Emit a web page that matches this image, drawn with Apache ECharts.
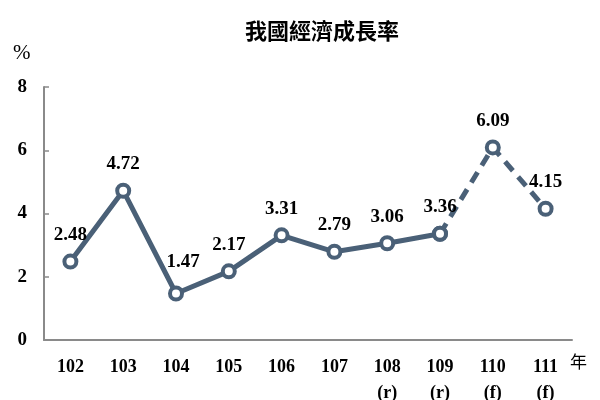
<!DOCTYPE html>
<html><head><meta charset="utf-8">
<script src="https://cdn.jsdelivr.net/npm/echarts@6/dist/echarts.min.js"></script>
<style>html,body{margin:0;padding:0;background:#fff}#c{width:600px;height:400px}</style>
</head><body><div id="c"></div>
<script>
const years = ['102','103','104','105','106','107','108','109','110','111'];
const notes = ['','','','','','','(r)','(r)','(f)','(f)'];
const actual = [2.48, 4.72, 1.47, 2.17, 3.31, 2.79, 3.06, 3.36, '-', '-'];
const forecast = ['-', '-', '-', '-', '-', '-', '-', 3.36, 6.09, 4.15];
const yTicks = [0, 2, 4, 6, 8];

const C = '#4a6077';
const serif = '"Liberation Serif","Times New Roman",serif';
const cats = years.map((y, i) => notes[i] ? y + '\n' + notes[i] : y);

// the 1.47 label sits a little to the right of its point in the reference
const actualItems = actual.map((v, i) => i === 2 ? {value: v, label: {offset: [7, -5]}} : v);

const chart = echarts.init(document.getElementById('c'));
chart.setOption({
  animation: false,
  title: {
    text: '我國經濟成長率', left: 317, top: 15, textAlign: 'center',
    textStyle: {fontFamily: '"Noto Sans CJK TC"', fontSize: 22, fontWeight: 'bold', color: '#000'}
  },
  graphic: [
    {type: 'text', left: 13, top: 43, style: {text: '%', font: '21px ' + serif, fill: '#000'}},
    {type: 'text', left: 570, top: 353, style: {text: '年', font: '17px "Noto Sans CJK TC"', fill: '#000'}}
  ],
  grid: {left: 44, right: 28, top: 87, bottom: 60, outerBoundsMode: 'none', containLabel: false},
  xAxis: {
    type: 'category', data: cats, boundaryGap: true,
    axisLine: {lineStyle: {color: '#8a8a8a', width: 2}},
    axisTick: {inside: true, length: 5, lineStyle: {color: '#8a8a8a', width: 1.5}},
    axisLabel: {margin: 14, color: '#000', fontFamily: serif, fontSize: 18, fontWeight: 'bold', lineHeight: 26, verticalAlign: 'top', interval: 0}
  },
  yAxis: {
    type: 'value', min: 0, max: 8, interval: 2,
    splitLine: {show: false},
    axisLine: {show: true, lineStyle: {color: '#8a8a8a', width: 2}},
    axisTick: {show: true, inside: true, length: 5, lineStyle: {color: '#8a8a8a', width: 1.5}},
    axisLabel: {margin: 17, color: '#000', fontFamily: serif, fontSize: 19, fontWeight: 'bold',
      formatter: v => yTicks.includes(v) ? String(v) : ''}
  },
  series: [
    {
      type: 'line', data: forecast, z: 2,
      lineStyle: {color: C, width: 5, type: [12, 8]},
      symbol: 'circle', symbolSize: 12,
      itemStyle: {color: '#fff', borderColor: C, borderWidth: 4},
      label: {show: true, position: 'top', distance: 9, color: '#000', fontFamily: serif, fontSize: 19, fontWeight: 'bold',
        formatter: p => p.dataIndex >= 8 ? p.value.toFixed(2) : ''}
    },
    {
      type: 'line', data: actualItems, z: 3,
      lineStyle: {color: C, width: 5},
      symbol: 'circle', symbolSize: 12,
      itemStyle: {color: '#fff', borderColor: C, borderWidth: 4},
      label: {show: true, position: 'top', distance: 9, color: '#000', fontFamily: serif, fontSize: 19, fontWeight: 'bold',
        formatter: p => Number(p.value).toFixed(2)}
    }
  ]
});
</script></body></html>
